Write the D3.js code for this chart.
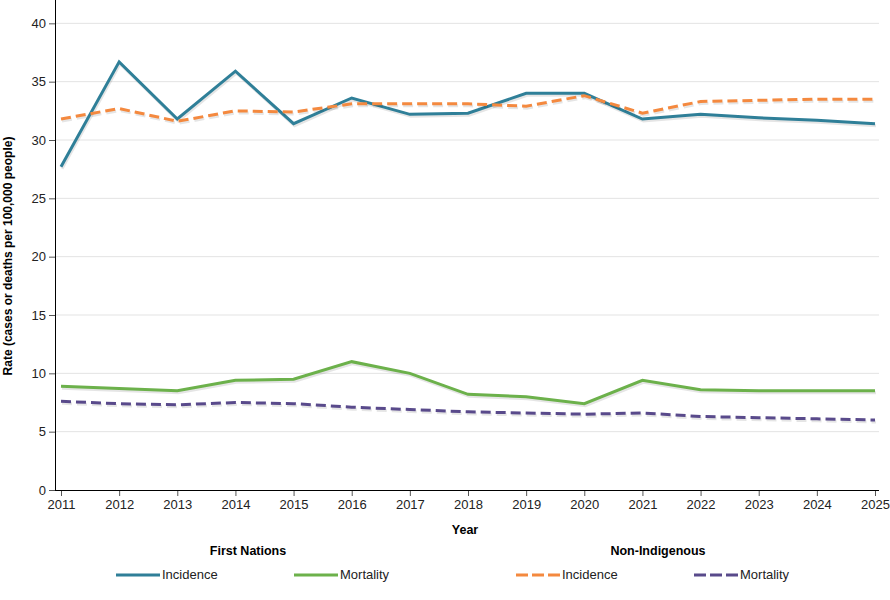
<!DOCTYPE html>
<html>
<head>
<meta charset="utf-8">
<script src="https://cdn.jsdelivr.net/npm/d3@7"></script>
<style>
  body { margin: 0; background: #fff; }
  svg text { font-family: "Liberation Sans", Arial, sans-serif; }
</style>
</head>
<body>
<div id="chart"></div>
<script>
// data
var years = [2011, 2012, 2013, 2014, 2015, 2016, 2017, 2018, 2019, 2020, 2021, 2022, 2023, 2024, 2025];
var fnIncidence = [27.7, 36.7, 31.8, 35.9, 31.4, 33.6, 32.2, 32.3, 34.0, 34.0, 31.8, 32.2, 31.9, 31.7, 31.4];
var fnMortality = [8.9, 8.7, 8.5, 9.4, 9.5, 11.0, 10.0, 8.2, 8.0, 7.4, 9.4, 8.6, 8.5, 8.5, 8.5];
var niIncidence = [31.8, 32.7, 31.6, 32.5, 32.4, 33.1, 33.1, 33.1, 32.9, 33.8, 32.3, 33.3, 33.4, 33.5, 33.5];
var niMortality = [7.6, 7.4, 7.3, 7.5, 7.4, 7.1, 6.9, 6.7, 6.6, 6.5, 6.6, 6.3, 6.2, 6.1, 6.0];
var yTicks = [0, 5, 10, 15, 20, 25, 30, 35, 40];

var series = [
    { name: "Incidence", group: "First Nations", values: fnIncidence, color: "#2f7f98", dash: null },
    { name: "Mortality", group: "First Nations", values: fnMortality, color: "#6cb14b", dash: null },
    { name: "Incidence", group: "Non-Indigenous", values: niIncidence, color: "#f4893f", dash: "10,5" },
    { name: "Mortality", group: "Non-Indigenous", values: niMortality, color: "#594a8b", dash: "10,5" }
];

var width = 890, height = 600;
var axisLeft = 55, axisRight = 879, axisBottom = 490;

var svg = d3.select("#chart").append("svg")
    .attr("width", width)
    .attr("height", height);

var x = d3.scaleLinear().domain([2011, 2025]).range([61, 875]);
var y = d3.scaleLinear().domain([0, 42]).range([axisBottom, 0]);

// gridlines
svg.append("g")
    .selectAll("line")
    .data(yTicks.filter(function(d) { return d > 0; }))
    .enter()
    .append("line")
    .attr("x1", axisLeft)
    .attr("x2", axisRight)
    .attr("y1", function(d) { return y(d); })
    .attr("y2", function(d) { return y(d); })
    .style("stroke", "#e3e3e3")
    .style("stroke-width", 1);

// y axis
var gy = svg.append("g")
    .attr("transform", "translate(" + axisLeft + ",0)")
    .call(d3.axisLeft(y).tickValues(yTicks).tickSize(6).tickPadding(3));
gy.select(".domain").remove();
gy.selectAll("text").style("font-size", "13px").style("fill", "#222");
gy.selectAll(".tick line").style("stroke", "#555");
svg.append("line")
    .attr("x1", axisLeft + 0.5).attr("x2", axisLeft + 0.5)
    .attr("y1", 0).attr("y2", axisBottom)
    .style("stroke", "#000");

// x axis
var gx = svg.append("g")
    .attr("transform", "translate(0," + axisBottom + ")")
    .call(d3.axisBottom(x).tickValues(years).tickFormat(d3.format("d")).tickSize(6).tickPadding(4));
gx.select(".domain").remove();
gx.selectAll("text").style("font-size", "13px").style("fill", "#222");
gx.selectAll(".tick line").style("stroke", "#555");
svg.append("line")
    .attr("x1", axisLeft).attr("x2", axisRight)
    .attr("y1", axisBottom + 0.5).attr("y2", axisBottom + 0.5)
    .style("stroke", "#000");

// axis titles
svg.append("text")
    .attr("x", 465).attr("y", 534)
    .attr("text-anchor", "middle")
    .style("font-size", "12.5px").style("font-weight", "bold")
    .text("Year");

svg.append("text")
    .attr("transform", "translate(12," + 256 + ") rotate(-90)")
    .attr("text-anchor", "middle")
    .style("font-size", "12px").style("font-weight", "bold")
    .text("Rate (cases or deaths per 100,000 people)");

// lines
var line = d3.line()
    .x(function(d, i) { return x(years[i]); })
    .y(function(d) { return y(d); });

var lines = svg.append("g");
series.forEach(function(s) {
    // soft shadow under each line
    lines.append("path")
        .attr("d", line(s.values))
        .attr("transform", "translate(1,2)")
        .style("fill", "none")
        .style("stroke", "#000")
        .style("stroke-opacity", 0.1)
        .style("stroke-width", 3)
        .style("stroke-dasharray", s.dash);
    lines.append("path")
        .attr("d", line(s.values))
        .style("fill", "none")
        .style("stroke", s.color)
        .style("stroke-width", 3)
        .style("stroke-dasharray", s.dash);
});

// legend
var groups = [
    { title: "First Nations", cx: 248, items: [series[0], series[1]], lx: [116, 294] },
    { title: "Non-Indigenous", cx: 658, items: [series[2], series[3]], lx: [516, 694] }
];

groups.forEach(function(g) {
    svg.append("text")
        .attr("x", g.cx).attr("y", 555)
        .attr("text-anchor", "middle")
        .style("font-size", "12.5px").style("font-weight", "bold")
        .text(g.title);
    g.items.forEach(function(s, i) {
        var lx = g.lx[i];
        svg.append("line")
            .attr("x1", lx).attr("x2", lx + 44)
            .attr("y1", 575).attr("y2", 575)
            .style("stroke", s.color)
            .style("stroke-width", 3)
            .style("stroke-dasharray", s.dash ? "12,4" : null);
        svg.append("text")
            .attr("x", lx + 46).attr("y", 579)
            .style("font-size", "13px")
            .style("fill", "#222")
            .text(s.name);
    });
});
</script>
</body>
</html>
